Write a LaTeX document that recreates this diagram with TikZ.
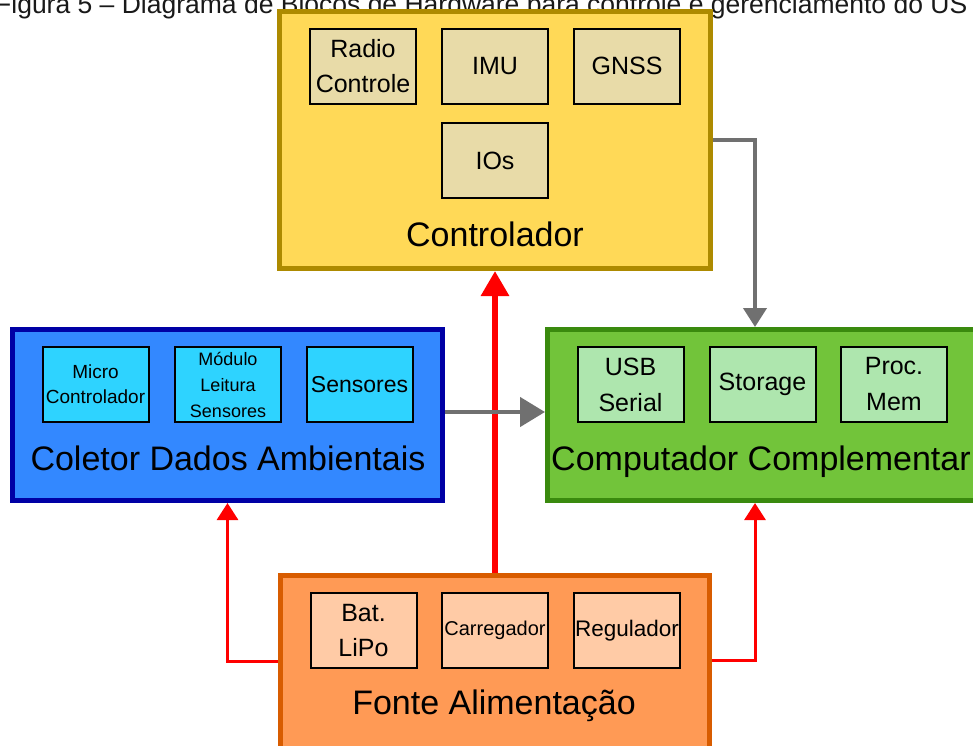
\documentclass[tikz,border=0pt]{standalone}
\usepackage{fontspec}
\setmainfont{Liberation Sans}
\usetikzlibrary{arrows.meta}
\definecolor{ylwfill}{HTML}{FFD957}
\definecolor{ylwdraw}{HTML}{AD8A00}
\definecolor{ylwin}{HTML}{E8DBA8}
\definecolor{bluefill}{HTML}{3388FF}
\definecolor{bluedraw}{HTML}{0000A5}
\definecolor{bluein}{HTML}{2ED3FF}
\definecolor{grnfill}{HTML}{72C43A}
\definecolor{grndraw}{HTML}{3A8A0E}
\definecolor{grnin}{HTML}{AEE6AE}
\definecolor{orgfill}{HTML}{FF9A55}
\definecolor{orgdraw}{HTML}{D85C00}
\definecolor{orgin}{HTML}{FFCBA6}
\definecolor{redline}{HTML}{FF0000}
\definecolor{grayline}{HTML}{707070}
\newcommand\fsz[2]{\fontsize{#1}{#2}\selectfont}
\begin{document}
\begin{tikzpicture}[x=1pt,y=-1pt,
  bigbox/.style={draw, line width=5pt, inner sep=0pt},
  bigtitle/.style={anchor=base, inner sep=0pt, font=\fsz{34}{40}},
  inbox/.style={draw=black, line width=2pt, minimum width=106pt, minimum height=75pt, inner sep=0pt, align=center},
  redthick/.style={draw=redline, line width=6pt, -{Triangle[width=27pt,length=25pt]}},
  redthin/.style={draw=redline, line width=3pt, line join=miter, -{Triangle[width=21pt,length=17pt]}},
  grayarr/.style={draw=grayline, line width=4pt, line join=miter, -{Triangle[width=23pt,length=19pt]}},
  grayarrb/.style={draw=grayline, line width=4.5pt, -{Triangle[width=29pt,length=25pt]}}
]
\useasboundingbox (0,0) rectangle (973,745);
\clip (0,0) rectangle (973,745);
\fill[white] (0,0) rectangle (973,745);

% title (cut off at top in reference, partly hidden by the yellow box)
\node[anchor=base west, inner sep=0pt, font=\fsz{26.5}{30}, text={black!90}] (title) at (-5,13)
  {Figura 5 – Diagrama de Blocos de Hardware para controle e gerenciamento do US};

% big boxes
\node[bigbox, draw=ylwdraw, fill=ylwfill, minimum width=431pt, minimum height=257pt] (ctrl) at (495,140) {};
\node[bigbox, draw=bluedraw, fill=bluefill, minimum width=430pt, minimum height=171pt] (col) at (227.5,415) {};
\node[bigbox, draw=grndraw, fill=grnfill, minimum width=430pt, minimum height=171pt] (cmp) at (762.5,415) {};
\node[bigbox, draw=orgdraw, fill=orgfill, minimum width=429pt, minimum height=257pt] (pwr) at (495,704) {};

% Controlador
\node[inbox, fill=ylwin, font=\fsz{25}{35}] (radio) at (363,66) {Radio\\Controle};
\node[inbox, fill=ylwin, font=\fsz{25}{35}] (imu) at (495,66) {IMU};
\node[inbox, fill=ylwin, font=\fsz{25}{35}] (gnss) at (627,66) {GNSS};
\node[inbox, fill=ylwin, font=\fsz{25}{35}] (ios) at (495,160.5) {IOs};
\node[bigtitle] (ctrlt) at (495,246) {Controlador};

% Coletor
\node[inbox, fill=bluein, font=\fsz{19}{25}] (micro) at (95.5,384.5) {Micro\\Controlador};
\node[inbox, fill=bluein, font=\fsz{18}{26}] (modl) at (228,384.5) {Módulo\\Leitura\\Sensores};
\node[inbox, fill=bluein, font=\fsz{23}{30}] (sens) at (359.5,384.5) {Sensores};
\node[bigtitle] (colt) at (228,470) {Coletor Dados Ambientais};

% Computador
\node[inbox, fill=grnin, font=\fsz{25}{36}] (usb) at (630.5,384.5) {USB\\Serial};
\node[inbox, fill=grnin, font=\fsz{25}{36}] (stor) at (762.5,384.5) {Storage};
\node[inbox, fill=grnin, font=\fsz{25}{36}] (proc) at (894,384.5) {Proc.\\Mem};
\node[bigtitle] (cmpt) at (761,470) {Computador Complementar};

% Fonte
\node[inbox, fill=orgin, font=\fsz{25}{35}] (bat) at (363.5,630.5) {Bat.\\LiPo};
\node[inbox, fill=orgin, font=\fsz{20}{26}] (carr) at (495,630.5) {Carregador};
\node[inbox, fill=orgin, font=\fsz{22.5}{28}] (reg) at (627,630.5) {Regulador};
\node[bigtitle] (pwrt) at (494,714) {Fonte Alimentação};

% connectors
\draw[redthick] (pwr.north) -- (ctrl.south);
\draw[redthin] ([yshift=43pt]pwr.west) -| (col.south);
\draw[redthin] ([yshift=44pt]pwr.east) -| ([xshift=-7.5pt]cmp.south);
\draw[grayarr] (ctrl.east) -| ([xshift=-7.5pt]cmp.north);
\draw[grayarrb] ([yshift=3pt]col.east) -- ([yshift=3pt]cmp.west);
\end{tikzpicture}
\end{document}
